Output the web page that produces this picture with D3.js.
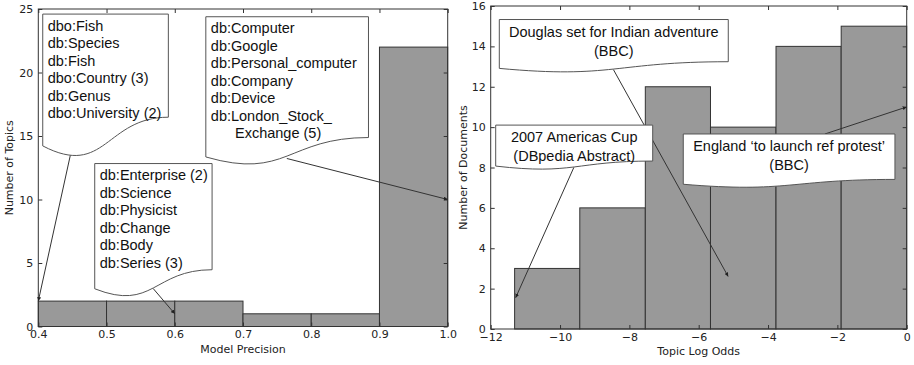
<!DOCTYPE html>
<html>
<head>
<meta charset="utf-8">
<script src="https://cdn.jsdelivr.net/npm/d3@7"></script>
<style>
  body { margin: 0; background: #fff; }
  svg { display: block; }
  .tick text { font-family: "DejaVu Sans", sans-serif; font-size: 11px; fill: #222; }
  .axis-label { font-family: "DejaVu Sans", sans-serif; font-size: 11px; fill: #222; }
  .note text { font-family: "Liberation Sans", Arial, sans-serif; font-size: 14.5px; fill: #111; }
</style>
</head>
<body>
<svg width="914" height="365"></svg>
<script>
// left panel: model precision histogram
const precEdges = [0.4, 0.5, 0.6, 0.7, 0.8, 0.9, 1.0];
const precCounts = [2, 2, 2, 1, 1, 22];
const precTicksX = [0.4, 0.5, 0.6, 0.7, 0.8, 0.9, 1.0];
const precTicksY = [0, 5, 10, 15, 20, 25];

// right panel: topic log odds histogram
const oddsEdges = [-11.31, -9.43, -7.54, -5.66, -3.77, -1.89, 0];
const oddsCounts = [3, 6, 12, 10, 14, 15];
const oddsTicksX = [-12, -10, -8, -6, -4, -2, 0];
const oddsTicksY = [0, 2, 4, 6, 8, 10, 12, 14, 16];

// callouts (box corners, arrow start and target in data units)
const precNotes = [
  { lines: ["dbo:Fish", "db:Species", "db:Fish", "dbo:Country (3)", "db:Genus", "dbo:University (2)"],
    x0: 0.4065, x1: 0.5906, top: 24.6, yL: 14.22, yR: 16.48, from: [0.4475, 13.62], to: [0.4, 2] },
  { lines: ["db:Enterprise (2)", "db:Science", "db:Physicist", "db:Change", "db:Body", "db:Series (3)"],
    x0: 0.4827, x1: 0.6547, top: 12.83, yL: 2.97, yR: 4.47, from: [0.5682, 3.0], to: [0.6, 1] },
  { lines: ["db:Computer", "db:Google", "db:Personal_computer", "db:Company", "db:Device", "db:London_Stock_",
            "\u00a0\u00a0\u00a0\u00a0\u00a0\u00a0Exchange (5)"],
    x0: 0.6455, x1: 0.8839, top: 24.39, yL: 13.35, yR: 14.88, from: [0.7642, 13.23], to: [1.0, 10] }
];
const oddsNotes = [
  { lines: ["Douglas set for Indian adventure", "(BBC)"],
    x0: -11.752, x1: -5.147, top: 15.33, yL: 12.91, yR: 13.24, from: [-8.46, 12.85], to: [-5.15, 2.6] },
  { lines: ["2007 Americas Cup", "(DBpedia Abstract)"],
    x0: -11.856, x1: -7.327, top: 10.10, yL: 8.07, yR: 8.32, from: [-9.6, 8.01], to: [-11.28, 1.55] },
  { lines: ["England \u2018to launch ref protest\u2019", "(BBC)"],
    x0: -6.445, x1: -0.339, top: 9.66, yL: 7.17, yR: 7.41, from: [-2.36, 9.66], to: [0, 11] }
];

const svg = d3.select("svg");

svg.append("defs").append("marker")
  .attr("id", "head")
  .attr("viewBox", "0 0 6 6")
  .attr("refX", 6).attr("refY", 3)
  .attr("markerWidth", 4).attr("markerHeight", 4)
  .attr("markerUnits", "userSpaceOnUse")
  .attr("orient", "auto")
  .append("path").attr("d", "M0,0L6,3L0,6Z").attr("fill", "#222");

function drawPanel(o) {
  const x = d3.scaleLinear().domain(o.xDomain).range([o.left, o.right]);
  const y = d3.scaleLinear().domain(o.yDomain).range([o.bottom, o.top]);

  // bars
  svg.append("g").selectAll("rect")
    .data(o.counts)
    .join("rect")
    .attr("x", (d, i) => x(o.edges[i]))
    .attr("y", d => y(d))
    .attr("width", (d, i) => x(o.edges[i + 1]) - x(o.edges[i]))
    .attr("height", d => y(0) - y(d))
    .attr("fill", "#999")
    .attr("stroke", "#333")
    .attr("stroke-width", 1);

  // frame
  svg.append("rect")
    .attr("x", o.left).attr("y", o.top)
    .attr("width", o.right - o.left).attr("height", o.bottom - o.top)
    .attr("fill", "none").attr("stroke", "#333");

  const noDomain = g => g.select(".domain").remove();
  svg.append("g").attr("transform", `translate(0,${o.bottom})`).style("color", "#333")
    .call(d3.axisBottom(x).tickValues(o.ticksX).tickFormat(o.fmtX).tickSizeInner(-4).tickSizeOuter(0).tickPadding(4))
    .call(noDomain);
  svg.append("g").attr("transform", `translate(0,${o.top})`).style("color", "#333")
    .call(d3.axisTop(x).tickValues(o.ticksX).tickFormat("").tickSizeInner(-4).tickSizeOuter(0))
    .call(noDomain);
  svg.append("g").attr("transform", `translate(${o.left},0)`).style("color", "#333")
    .call(d3.axisLeft(y).tickValues(o.ticksY).tickFormat(d3.format("d")).tickSizeInner(-4).tickSizeOuter(0).tickPadding(5))
    .call(noDomain);
  svg.append("g").attr("transform", `translate(${o.right},0)`).style("color", "#333")
    .call(d3.axisRight(y).tickValues(o.ticksY).tickFormat("").tickSizeInner(-4).tickSizeOuter(0))
    .call(noDomain);

  svg.append("text").attr("class", "axis-label")
    .attr("x", (o.left + o.right) / 2).attr("y", o.xLabelY)
    .attr("text-anchor", "middle").text(o.xLabel);
  svg.append("text").attr("class", "axis-label")
    .attr("transform", `translate(${o.yLabelX},${(o.top + o.bottom) / 2}) rotate(-90)`)
    .attr("text-anchor", "middle").text(o.yLabel);

  // callouts
  o.notes.forEach(n => {
    svg.append("line")
      .attr("x1", x(n.from[0])).attr("y1", y(n.from[1]))
      .attr("x2", x(n.to[0])).attr("y2", y(n.to[1]))
      .attr("stroke", "#333").attr("stroke-width", 1)
      .attr("marker-end", "url(#head)");

    const x0 = x(n.x0), x1 = x(n.x1), top = y(n.top), yl = y(n.yL), yr = y(n.yR);
    const xm = x0 + (x1 - x0) / 2;
    const dip = yl + (yl - yr) + 4;
    const g = svg.append("g").attr("class", "note");
    g.append("path")
      .attr("d", `M${x0},${top}H${x1}V${yr}C${xm},${yr} ${xm},${dip} ${x0},${yl}Z`)
      .attr("fill", "#fff").attr("stroke", "#555").attr("stroke-width", 1);
    g.selectAll("text").data(n.lines).join("text")
      .attr("x", o.noteAlign === "middle" ? xm : x0 + 5)
      .attr("y", (d, i) => top + o.noteFirst + i * o.noteStep)
      .attr("text-anchor", o.noteAlign)
      .text(d => d);
  });
}

drawPanel({
  edges: precEdges, counts: precCounts, ticksX: precTicksX, ticksY: precTicksY,
  xDomain: [0.4, 1.0], yDomain: [0, 25],
  left: 38.3, right: 447.7, top: 9, bottom: 326.5,
  fmtX: d3.format(".1f"),
  xLabel: "Model Precision", xLabelY: 353, yLabel: "Number of Topics", yLabelX: 13,
  notes: precNotes, noteAlign: "start", noteFirst: 16.5, noteStep: 17.5
});

drawPanel({
  edges: oddsEdges, counts: oddsCounts, ticksX: oddsTicksX, ticksY: oddsTicksY,
  xDomain: [-12, 0], yDomain: [0, 16],
  left: 490.7, right: 906.7, top: 6, bottom: 329,
  fmtX: d3.format("d"),
  xLabel: "Topic Log Odds", xLabelY: 355, yLabel: "Number of Documents", yLabelX: 467,
  notes: oddsNotes, noteAlign: "middle", noteFirst: 17, noteStep: 19
});
</script>
</body>
</html>
